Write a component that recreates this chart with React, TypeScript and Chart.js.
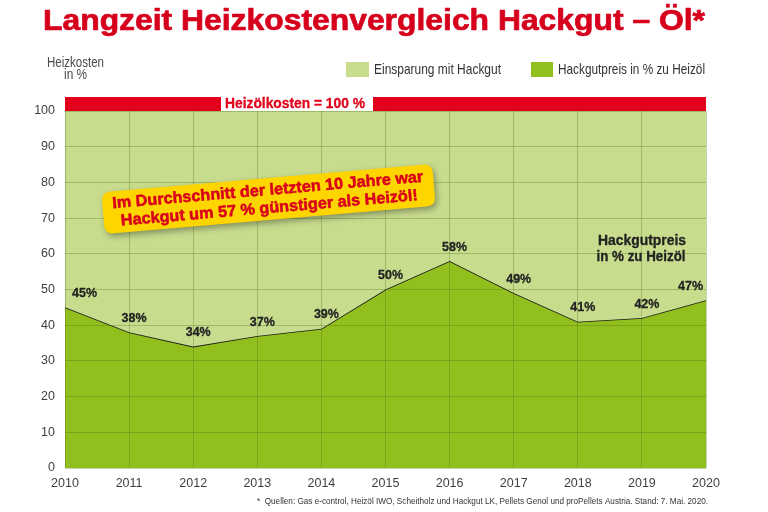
import React, { useEffect, useRef } from "react";
import { Chart, registerables } from "chart.js";

Chart.register(...registerables);

const years = ["2010", "2011", "2012", "2013", "2014", "2015", "2016", "2017", "2018", "2019", "2020"];
const hackgutPercent = [45, 38, 34, 37, 39, 50, 58, 49, 41, 42, 47];
const oilPercent = [100, 100, 100, 100, 100, 100, 100, 100, 100, 100, 100];
const seriesNames = ["Einsparung mit Hackgut", "Hackgutpreis in % zu Heizöl"];
const titleText = "Langzeit Heizkostenvergleich Hackgut – Öl*";
const calloutLines = ["Im Durchschnitt der letzten 10 Jahre war", "Hackgut um 57 % günstiger als Heizöl!"];
const footnote = "*  Quellen: Gas e-control, Heizöl IWO, Scheitholz und Hackgut LK, Pellets Genol und proPellets Austria. Stand: 7. Mai. 2020.";

const LIGHT = "#c8dc8e";
const DARK = "#91bf1e";
const RED = "#e2001a";
const TITLE_RED = "#d6001c";
const SANS = '"Liberation Sans", Arial, sans-serif';

function fitText(ctx: CanvasRenderingContext2D, text: string, x: number, y: number, w: number, font: string, color: string, align: "left" | "center" | "right", stroke = 0) {
  ctx.save();
  ctx.font = font;
  ctx.fillStyle = color;
  ctx.textBaseline = "middle";
  ctx.textAlign = "left";
  const m = ctx.measureText(text).width;
  const s = w / m;
  let x0 = x;
  if (align === "center") x0 = x - w / 2;
  if (align === "right") x0 = x - w;
  ctx.translate(x0, y);
  ctx.scale(s, 1);
  ctx.fillText(text, 0, 0);
  if (stroke > 0) {
    ctx.strokeStyle = color;
    ctx.lineWidth = stroke;
    ctx.lineJoin = "round";
    ctx.strokeText(text, 0, 0);
  }
  ctx.restore();
}

function roundRect(ctx: CanvasRenderingContext2D, x: number, y: number, w: number, h: number, r: number) {
  ctx.beginPath();
  ctx.moveTo(x + r, y);
  ctx.lineTo(x + w - r, y);
  ctx.quadraticCurveTo(x + w, y, x + w, y + r);
  ctx.lineTo(x + w, y + h - r);
  ctx.quadraticCurveTo(x + w, y + h, x + w - r, y + h);
  ctx.lineTo(x + r, y + h);
  ctx.quadraticCurveTo(x, y + h, x, y + h - r);
  ctx.lineTo(x, y + r);
  ctx.quadraticCurveTo(x, y, x + r, y);
  ctx.closePath();
}

const decorPlugin = {
  id: "decor",
  afterDraw(chart: any) {
    const ctx: CanvasRenderingContext2D = chart.ctx;
    const area = chart.chartArea;

    // Title
    fitText(ctx, titleText, 43, 22, 662, `bold 29px ${SANS}`, TITLE_RED, "left", 0.7);

    // Axis title
    fitText(ctx, "Heizkosten", 47, 63, 57, `14px ${SANS}`, "#4a4a4a", "left");
    fitText(ctx, "in %", 64, 75.5, 23, `14px ${SANS}`, "#4a4a4a", "left");

    // Legend
    ctx.fillStyle = LIGHT;
    ctx.fillRect(346, 62, 23, 15);
    fitText(ctx, seriesNames[0], 374, 69.5, 127, `14.5px ${SANS}`, "#333", "left");
    ctx.fillStyle = DARK;
    ctx.fillRect(531, 62, 22, 15);
    fitText(ctx, seriesNames[1], 558, 69.5, 147, `14.5px ${SANS}`, "#333", "left");

    // Red 100% bar
    ctx.fillStyle = RED;
    ctx.fillRect(area.left, 97, area.right - area.left, area.top - 97);
    ctx.fillStyle = "#ffffff";
    ctx.fillRect(221, 97, 152, area.top - 97);
    fitText(ctx, "Heizölkosten = 100 %", 225, 104.5, 140, `bold 14px ${SANS}`, RED, "left", 0.3);

    // Data labels
    const meta = chart.getDatasetMeta(1);
    meta.data.forEach((pt: any, i: number) => {
      const txt = `${hackgutPercent[i]}%`;
      let x = pt.x + 5;
      let align: "left" | "center" | "right" = "center";
      if (i === 0) { x = pt.x + 7; align = "left"; }
      if (i === meta.data.length - 1) { x = pt.x - 3; align = "right"; }
      fitText(ctx, txt, x, pt.y - 14, 25, `bold 13.5px ${SANS}`, "#222", align, 0.3);
    });

    // Annotation
    fitText(ctx, "Hackgutpreis", 642, 241, 88, `bold 14px ${SANS}`, "#222", "center", 0.3);
    fitText(ctx, "in % zu Heizöl", 641, 257.5, 89, `bold 14px ${SANS}`, "#222", "center", 0.3);

    // Callout
    ctx.save();
    ctx.translate(268.5, 199);
    ctx.rotate((-4.9 * Math.PI) / 180);
    ctx.shadowColor = "rgba(0,0,0,0.35)";
    ctx.shadowBlur = 6;
    ctx.shadowOffsetX = 2;
    ctx.shadowOffsetY = 3;
    ctx.fillStyle = "#ffd500";
    roundRect(ctx, -166, -21, 332, 42, 9);
    ctx.fill();
    ctx.shadowColor = "transparent";
    fitText(ctx, calloutLines[0], 0, -8.5, 312, `bold 16px ${SANS}`, "#d9001b", "center", 0.5);
    fitText(ctx, calloutLines[1], 0, 9.5, 298, `bold 16px ${SANS}`, "#d9001b", "center", 0.5);
    ctx.restore();

    // Footnote
    fitText(ctx, footnote, 257, 502, 451, `9px ${SANS}`, "#333", "left");
  },
};

export default function App() {
  const ref = useRef<HTMLCanvasElement | null>(null);
  useEffect(() => {
    if (!ref.current) return;
    const gridColor = "rgba(70,105,15,0.3)";
    const chart = new Chart(ref.current, {
      type: "line",
      data: {
        labels: years,
        datasets: [
          {
            label: seriesNames[0],
            data: oilPercent,
            fill: "+1",
            backgroundColor: LIGHT,
            borderWidth: 0,
            pointRadius: 0,
          },
          {
            label: seriesNames[1],
            data: hackgutPercent,
            fill: "origin",
            backgroundColor: DARK,
            borderColor: "#1b1b1b",
            borderWidth: 1.6,
            pointRadius: 0,
            tension: 0,
          },
        ],
      },
      options: {
        animation: false,
        responsive: true,
        maintainAspectRatio: false,
        layout: { padding: { left: 0, right: 62, top: 111, bottom: 16 } },
        plugins: {
          legend: { display: false },
          tooltip: { enabled: false },
          title: { display: false },
        },
        scales: {
          x: {
            offset: false,
            grid: { color: gridColor, drawTicks: false, lineWidth: 1, z: 1 },
            border: { display: false },
            ticks: { color: "#3f3f3f", font: { family: SANS, size: 12.5 }, padding: 8, maxRotation: 0, autoSkip: false },
            afterFit: (s: any) => { s.height = 28; },
          },
          y: {
            min: 0,
            max: 100,
            grid: { color: gridColor, drawTicks: false, lineWidth: 1, z: 1 },
            border: { display: false },
            ticks: { stepSize: 10, color: "#3f3f3f", font: { family: SANS, size: 12.5 }, padding: 10 },
            afterFit: (s: any) => { s.width = 65; },
          },
        },
      },
      plugins: [decorPlugin],
    });
    return () => chart.destroy();
  }, []);
  return (
    <div style={{ position: "absolute", left: 0, top: 0, width: 768, height: 512, background: "#ffffff" }}>
      <canvas ref={ref} />
    </div>
  );
}
